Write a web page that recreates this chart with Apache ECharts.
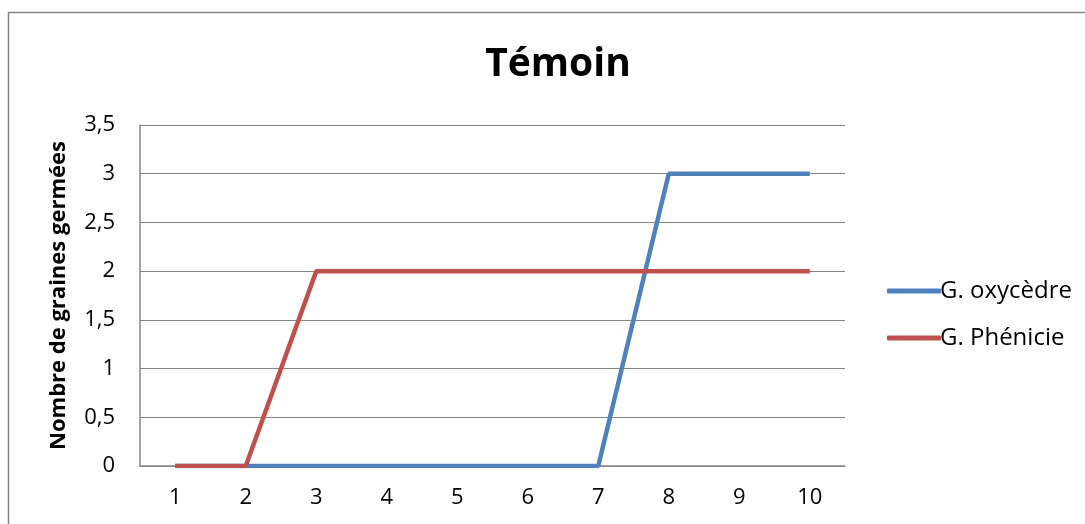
<!DOCTYPE html>
<html><head><meta charset="utf-8">
<script src="https://cdn.jsdelivr.net/npm/echarts@6/dist/echarts.min.js"></script>
<style>html,body{margin:0;padding:0;background:#fff}#c{width:1085px;height:524px}</style>
</head><body><div id="c"></div>
<script>
const categories = ['1','2','3','4','5','6','7','8','9','10'];
const oxycedre = [0,0,0,0,0,0,0,3,3,3];
const phenicie = [0,0,2,2,2,2,2,2,2,2];
const seriesNames = ['G. oxycèdre','G. Phénicie'];
const FONT = "'Open Sans','Noto Sans',sans-serif";
const chart = echarts.init(document.getElementById('c'));
chart.setOption({
  animation:false,
  textStyle:{fontFamily:FONT},
  graphic:[{type:'rect',shape:{x:8.5,y:12.5,width:1100,height:600},style:{fill:'none',stroke:'#868686',lineWidth:1.5},silent:true}],
  title:{text:'Témoin',left:553,top:40,textAlign:'center',textStyle:{fontFamily:FONT,fontSize:39,fontWeight:'bold',color:'#000'}},
  legend:{orient:'vertical',left:882,top:274,itemGap:23,itemWidth:54,itemHeight:5,icon:'roundRect',
    data:seriesNames,textStyle:{fontFamily:FONT,fontSize:24,color:'#000',padding:[0,0,0,-6]}},
  grid:{left:140,right:240,top:125,bottom:58},
  xAxis:{type:'category',data:categories,boundaryGap:true,
    axisLine:{lineStyle:{color:'#868686',width:1.5}},axisTick:{show:false},
    axisLabel:{fontFamily:FONT,fontSize:22,color:'#000',margin:21}},
  yAxis:{type:'value',min:0,max:3.5,interval:0.5,
    name:'Nombre de graines germées',nameLocation:'middle',nameGap:70,nameRotate:90,
    nameTextStyle:{fontFamily:FONT,fontSize:22,fontWeight:'bold',color:'#000'},
    axisLine:{show:true,lineStyle:{color:'#868686',width:1.5}},axisTick:{show:false},
    splitLine:{lineStyle:{color:'#868686',width:1.2}},
    axisLabel:{fontFamily:FONT,fontSize:22,color:'#000',margin:25,formatter:v=>String(v).replace('.',',')}},
  series:[
    {name:seriesNames[0],type:'line',data:oxycedre,showSymbol:false,symbol:'none',lineStyle:{color:'#4F81BD',width:4.5},itemStyle:{color:'#4F81BD'}},
    {name:seriesNames[1],type:'line',data:phenicie,showSymbol:false,symbol:'none',lineStyle:{color:'#C0504D',width:4.5},itemStyle:{color:'#C0504D'}}
  ]
});
</script></body></html>
